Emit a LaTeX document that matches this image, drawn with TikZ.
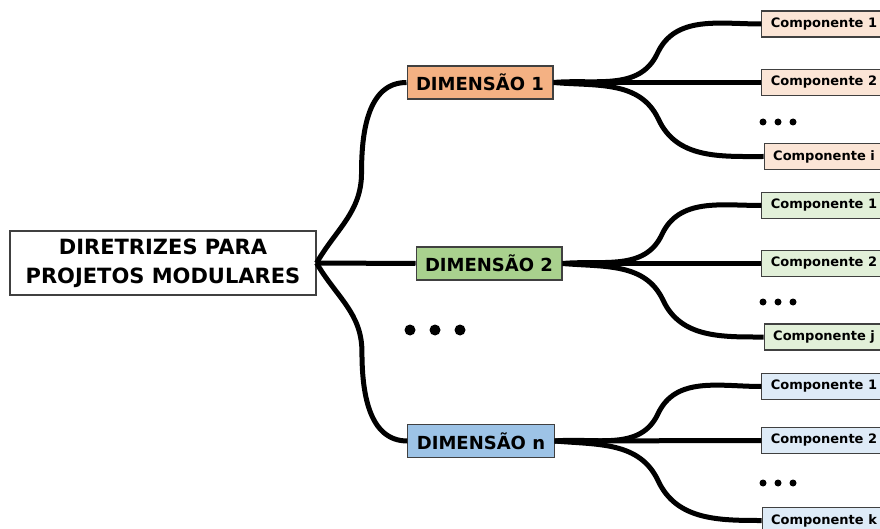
\documentclass[tikz,border=0pt]{standalone}
\usepackage{fontspec}
\setmainfont{DejaVu Sans}
\usetikzlibrary{calc}
\definecolor{dimA}{HTML}{F4B183}
\definecolor{dimB}{HTML}{A9D18E}
\definecolor{dimC}{HTML}{9DC3E6}
\definecolor{compA}{HTML}{FBE5D6}
\definecolor{compB}{HTML}{E2F0D9}
\definecolor{compC}{HTML}{DEEBF7}
\tikzstyle{box}=[draw=black!75, line width=1.1pt, font=\bfseries]
\tikzstyle{dimbox}=[box, minimum height=33pt, inner xsep=9pt, font=\bfseries\fontsize{18}{20}\selectfont]
\tikzstyle{compbox}=[box, minimum height=26pt, inner xsep=9pt, font=\bfseries\fontsize{13}{15}\selectfont]
\tikzstyle{branch}=[line width=5pt, black]

\begin{document}
\begin{tikzpicture}[x=1pt, y=-1pt]
\useasboundingbox (0,0) rectangle (880,529);
% Root
    \node[box, minimum width=306pt, minimum height=64pt, align=center,
          font=\bfseries\fontsize{21}{29}\selectfont] (root) at (163,263)
          {DIRETRIZES PARA\\PROJETOS MODULARES};
% Dimensions
    \node[dimbox, fill=dimA] (dim1) at (480,82.5) {DIMENSÃO 1};
    \node[dimbox, fill=dimB] (dim2) at (489,263.5) {DIMENSÃO 2};
    \node[dimbox, fill=dimC] (dimn) at (481,441) {DIMENSÃO n};
% Components
    \node[compbox, fill=compA] (c11) at (824,24) {Componente 1};
    \node[compbox, fill=compA] (c12) at (824,82.5) {Componente 2};
    \node[compbox, fill=compA] (c1i) at (824,156.5) {Componente i};
    \node[compbox, fill=compB] (c21) at (824,205.5) {Componente 1};
    \node[compbox, fill=compB] (c22) at (824,263.5) {Componente 2};
    \node[compbox, fill=compB] (c2j) at (824,337) {Componente j};
    \node[compbox, fill=compC] (cn1) at (824,386.5) {Componente 1};
    \node[compbox, fill=compC] (cn2) at (824,440.5) {Componente 2};
    \node[compbox, fill=compC] (cnk) at (824,520.5) {Componente k};
% Root to dimensions
    \draw[branch] (root.east) to[out=60,in=-90] ($(root.east)!0.5!(dim1.west)$)
        to[out=90,in=180] (dim1.west);
    \draw[branch] (root.east) -- (dim2.west);
    \draw[branch] (root.east) to[out=-60,in=90] ($(root.east)!0.5!(dimn.west)$)
        to[out=-90,in=180] (dimn.west);
% Dimensions to components
    \draw[branch] (dim1.east) to[out=5,in=-115] ($(dim1.east)!0.5!(c11.west)$)
        to[out=65,in=180] (c11.west);
    \draw[branch] (dim1.east) -- (c12.west);
    \draw[branch] (dim1.east) to[out=-5,in=115] ($(dim1.east)!0.5!(c1i.west)$)
        to[out=-65,in=180] (c1i.west);
    \draw[branch] (dim2.east) to[out=5,in=-115] ($(dim2.east)!0.5!(c21.west)$)
        to[out=65,in=180] (c21.west);
    \draw[branch] (dim2.east) -- (c22.west);
    \draw[branch] (dim2.east) to[out=-5,in=115] ($(dim2.east)!0.5!(c2j.west)$)
        to[out=-65,in=180] (c2j.west);
    \draw[branch] (dimn.east) to[out=5,in=-115] ($(dimn.east)!0.5!(cn1.west)$)
        to[out=65,in=180] (cn1.west);
    \draw[branch] (dimn.east) -- (cn2.west);
    \draw[branch] (dimn.east) to[out=-5,in=115] ($(dimn.east)!0.5!(cnk.west)$)
        to[out=-65,in=180] (cnk.west);
% Ellipses
    \foreach \x in {410,435,460} \fill (\x,330) circle(5.5);
    \foreach \y in {122,302,483}
        \foreach \x in {763,778,793} \fill (\x,\y) circle(3.5);
\end{tikzpicture}
\end{document}
